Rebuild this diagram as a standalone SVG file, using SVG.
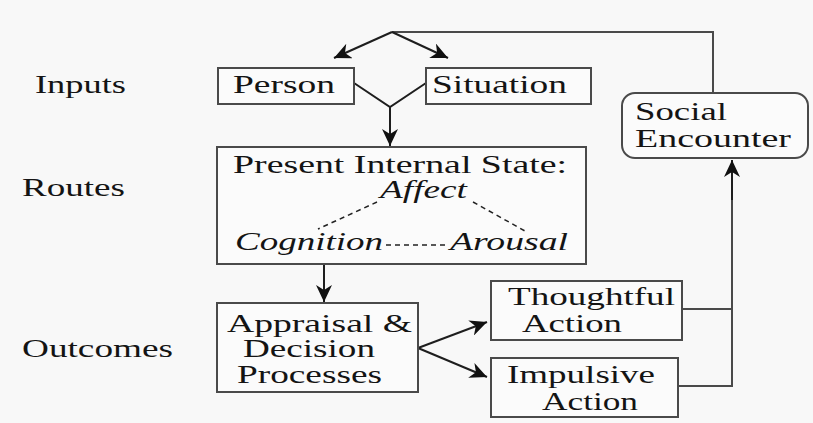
<svg xmlns="http://www.w3.org/2000/svg" width="813" height="423" viewBox="0 0 813 423">
<style>
.bg{fill:#f8f8f8}
.box{fill:#fbfbfb;stroke:#4a4a4a;stroke-width:2}
.t{font-family:"Liberation Serif","Times New Roman",serif;font-size:25px;fill:#141414}
.i{font-style:italic}
.ln{fill:none;stroke:#1e1e1e;stroke-width:2}
.gl{fill:none;stroke:#4a4a4a;stroke-width:2}
.ar{fill:none;stroke:#1e1e1e;stroke-width:2;marker-end:url(#ah)}
.ds{fill:none;stroke:#222;stroke-width:1.5;stroke-dasharray:5 4}
</style>
<defs>
<marker id="ah" markerUnits="userSpaceOnUse" markerWidth="18" markerHeight="16" refX="17" refY="8" orient="auto">
<path d="M0,0 L17,8 L0,16 L5,8 Z" fill="#111"/>
</marker>
</defs>
<rect class="bg" x="0" y="0" width="813" height="423"/>

<g id="labels">
<text class="t" x="35" y="93" textLength="91" lengthAdjust="spacingAndGlyphs">Inputs</text>
<text class="t" x="22" y="196" textLength="103" lengthAdjust="spacingAndGlyphs">Routes</text>
<text class="t" x="22" y="357" textLength="151" lengthAdjust="spacingAndGlyphs">Outcomes</text>
</g>

<g id="connectors">
<polyline class="gl" points="392,32 713,32 713,93"/>
<line class="ar" x1="392" y1="32" x2="334" y2="58"/>
<line class="ar" x1="392" y1="32" x2="448" y2="58"/>
<polyline class="ln" points="354,83 390,107 426,83"/>
<line class="ar" x1="390" y1="107" x2="390" y2="146"/>
<line class="ar" x1="324" y1="264" x2="324" y2="302"/>
<line class="ar" x1="418" y1="348" x2="487" y2="322"/>
<line class="ar" x1="418" y1="348" x2="487" y2="377"/>
<polyline class="gl" points="682,309 732,309"/>
<polyline class="gl" points="678,386 732,386 732,175"/>
<line class="ar" x1="732" y1="200" x2="732" y2="160"/>
</g>

<g id="person">
<rect class="box" x="218" y="68" width="136" height="36"/>
<text class="t" x="233" y="93" textLength="102" lengthAdjust="spacingAndGlyphs">Person</text>
</g>

<g id="situation">
<rect class="box" x="426" y="68" width="165" height="36"/>
<text class="t" x="432" y="93" textLength="135" lengthAdjust="spacingAndGlyphs">Situation</text>
</g>

<g id="present-internal-state">
<rect class="box" x="217" y="147" width="369" height="117"/>
<text class="t" x="233" y="173" textLength="334" lengthAdjust="spacingAndGlyphs">Present Internal State:</text>
<text class="t i" x="380" y="198" textLength="87" lengthAdjust="spacingAndGlyphs">Affect</text>
<text class="t i" x="235" y="250" textLength="148" lengthAdjust="spacingAndGlyphs">Cognition</text>
<text class="t i" x="450" y="250" textLength="118" lengthAdjust="spacingAndGlyphs">Arousal</text>
<line class="ds" x1="377" y1="202" x2="318" y2="229"/>
<line class="ds" x1="473" y1="202" x2="525" y2="231"/>
<line class="ds" x1="386" y1="245" x2="448" y2="245"/>
</g>

<g id="appraisal">
<rect class="box" x="217" y="303" width="201" height="89"/>
<text class="t" x="227" y="332" textLength="185" lengthAdjust="spacingAndGlyphs">Appraisal &amp;</text>
<text class="t" x="243" y="357" textLength="132" lengthAdjust="spacingAndGlyphs">Decision</text>
<text class="t" x="237" y="383" textLength="145" lengthAdjust="spacingAndGlyphs">Processes</text>
</g>

<g id="thoughtful-action">
<rect class="box" x="491" y="281" width="191" height="59"/>
<text class="t" x="508" y="305" textLength="167" lengthAdjust="spacingAndGlyphs">Thoughtful</text>
<text class="t" x="522" y="332" textLength="100" lengthAdjust="spacingAndGlyphs">Action</text>
</g>

<g id="impulsive-action">
<rect class="box" x="491" y="358" width="187" height="59"/>
<text class="t" x="507" y="383" textLength="148" lengthAdjust="spacingAndGlyphs">Impulsive</text>
<text class="t" x="542" y="410" textLength="96" lengthAdjust="spacingAndGlyphs">Action</text>
</g>

<g id="social-encounter">
<rect class="box" x="622" y="93" width="186" height="65" rx="13" ry="13"/>
<text class="t" x="635" y="120" textLength="92" lengthAdjust="spacingAndGlyphs">Social</text>
<text class="t" x="635" y="147" textLength="156" lengthAdjust="spacingAndGlyphs">Encounter</text>
</g>
</svg>
